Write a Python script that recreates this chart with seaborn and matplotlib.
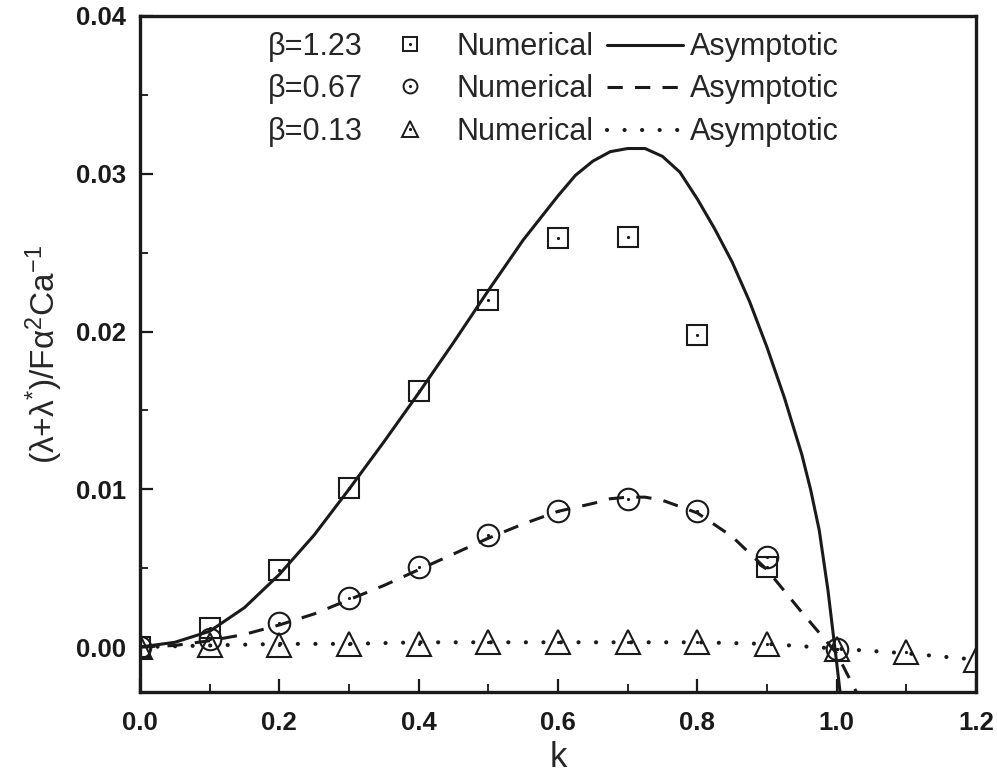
import matplotlib
matplotlib.use("Agg")
import matplotlib.pyplot as plt
import seaborn as sns
from matplotlib.ticker import MultipleLocator, FormatStrFormatter

# ---------------- data ----------------
k_num = [0.0, 0.1, 0.2, 0.3, 0.4, 0.5, 0.6, 0.7, 0.8, 0.9]
num_b123 = [0.0, 0.0012, 0.0049, 0.0101, 0.0162, 0.0220, 0.0259, 0.0260, 0.0198, 0.0051]

k_num067 = [0.0, 0.1, 0.2, 0.3, 0.4, 0.5, 0.6, 0.7, 0.8, 0.9, 1.0]
num_b067 = [0.0, 0.0005, 0.0015, 0.0031, 0.0051, 0.0071, 0.0086, 0.0094, 0.0086, 0.0057, -0.0001]

k_num013 = [0.0, 0.1, 0.2, 0.3, 0.4, 0.5, 0.6, 0.7, 0.8, 0.9, 1.0, 1.1, 1.2]
num_b013 = [0.0, 0.0001, 0.0001, 0.0002, 0.0002, 0.0003, 0.0003, 0.0003, 0.0003, 0.0002, -0.0001, -0.0003, -0.0008]

k_asy123 = [0.0, 0.05, 0.1, 0.15, 0.2, 0.25, 0.3, 0.35, 0.4, 0.45, 0.5, 0.55, 0.6, 0.625,
            0.65, 0.675, 0.7, 0.725, 0.75, 0.775, 0.8, 0.825, 0.85, 0.875, 0.9, 0.925,
            0.95, 0.9625, 0.975, 0.9875, 1.0, 1.01]
asy_b123 = [0.0, 0.0003, 0.0010, 0.0025, 0.0046, 0.0071, 0.0100, 0.0130, 0.0161, 0.0193, 0.0226,
            0.0258, 0.0286, 0.0299, 0.0308, 0.0314, 0.0316, 0.0316, 0.0311, 0.0301, 0.0284,
            0.0265, 0.0244, 0.0219, 0.0190, 0.0158, 0.0122, 0.0100, 0.0074, 0.0036, -0.0010,
            -0.0048]

k_asy067 = [0.0, 0.05, 0.1, 0.15, 0.2, 0.25, 0.3, 0.35, 0.4, 0.45, 0.5, 0.55, 0.6, 0.65,
            0.675, 0.7, 0.725, 0.75, 0.8, 0.85, 0.9, 0.95, 1.0, 1.03]
asy_b067 = [0.0, 0.0001, 0.0004, 0.0008, 0.0014, 0.0021, 0.0030, 0.0039, 0.0049, 0.0059, 0.0069,
            0.0078, 0.0086, 0.0091, 0.0094, 0.0095, 0.0095, 0.0093, 0.0085, 0.0070, 0.0049,
            0.0022, -0.0004, -0.0030]

k_asy013 = [0.0, 0.1, 0.2, 0.3, 0.4, 0.5, 0.6, 0.7, 0.8, 0.9, 1.0, 1.1, 1.2]
asy_b013 = [0.0, 0.0001, 0.0002, 0.0002, 0.0003, 0.0003, 0.0003, 0.0003, 0.0003, 0.0002, -0.0001, -0.0004, -0.0008]

betas = ["\u03b2=1.23", "\u03b2=0.67", "\u03b2=0.13"]
x_ticks = [0.0, 0.2, 0.4, 0.6, 0.8, 1.0, 1.2]
y_ticks = [0.00, 0.01, 0.02, 0.03, 0.04]

# ---------------- style ----------------
sns.set_theme(style="ticks")
plt.rcParams["font.family"] = ["Liberation Sans", "DejaVu Sans"]
plt.rcParams["mathtext.fontset"] = "custom"
plt.rcParams["mathtext.rm"] = "Liberation Sans"
plt.rcParams["mathtext.it"] = "Liberation Sans:italic"

fig = plt.figure(figsize=(9.97, 7.79), dpi=100)
ax = fig.add_axes([140 / 997, 1 - 692 / 779, 836 / 997, 676 / 779])

LW = 2.2
solid = "-"
dashed = (0, (5, 4))
dotted = (0, (0.01, 4.2))

# asymptotic curves
sns.lineplot(x=k_asy123, y=asy_b123, ax=ax, color="k", lw=LW, linestyle=solid,
             sort=False, estimator=None)
sns.lineplot(x=k_asy067, y=asy_b067, ax=ax, color="k", lw=LW, linestyle=dashed,
             sort=False, estimator=None)
sns.lineplot(x=k_asy013, y=asy_b013, ax=ax, color="k", lw=3.0, linestyle=dotted,
             dash_capstyle="round", solid_capstyle="round", sort=False, estimator=None)

# numerical markers
for kk, vv, mk, ms in [(k_num, num_b123, "s", 14), (k_num067, num_b067, "o", 15.5),
                       (k_num013, num_b013, "^", 17)]:
    sns.lineplot(x=kk, y=vv, ax=ax, linestyle="none", marker=mk, markersize=ms,
                 markerfacecolor="none", markeredgecolor="k", markeredgewidth=1.5,
                 color="k", sort=False, estimator=None)
    sns.lineplot(x=kk, y=vv, ax=ax, linestyle="none", marker=".", markersize=3,
                 markerfacecolor="k", markeredgecolor="k", color="k",
                 sort=False, estimator=None)

ax.set_xlim(0.0, 1.2)
ax.set_ylim(-0.00285, 0.04)
ax.set_xticks(x_ticks)
ax.set_yticks(y_ticks)
ax.xaxis.set_minor_locator(MultipleLocator(0.1))
ax.yaxis.set_minor_locator(MultipleLocator(0.005))
ax.xaxis.set_major_formatter(FormatStrFormatter("%.1f"))
ax.yaxis.set_major_formatter(FormatStrFormatter("%.2f"))
ax.tick_params(which="major", direction="in", length=9.5, width=1.6, labelsize=18.5,
               colors="k", top=False, right=False)
ax.tick_params(axis="x", which="major", pad=14)
ax.tick_params(axis="y", which="major", pad=10)
ax.tick_params(which="minor", direction="in", length=5.5, width=1.4, top=False, right=False)
for lab in ax.get_xticklabels() + ax.get_yticklabels():
    lab.set_fontweight("bold")
for sp in ax.spines.values():
    sp.set_visible(True)
    sp.set_linewidth(2.4)
    sp.set_color("k")

ax.set_xlabel("k", fontsize=25, labelpad=4)
ax.set_ylabel(r"$\mathregular{(\lambda{+}\lambda^{*})/F\alpha^{2}Ca^{-1}}$", fontsize=24, labelpad=8)

# ---------------- legend ----------------
rows_y = [0.942, 0.880, 0.817]
styles = [solid, dashed, dotted]
markers = [("s", 9.5), ("o", 10), ("^", 11.5)]
T = ax.transAxes
for i in range(3):
    yb = rows_y[i]
    ym = yb + 0.0165
    ax.text(0.153, yb, betas[i], transform=T, fontsize=22, va="baseline", ha="left")
    ax.plot([0.323], [ym], transform=T, marker=markers[i][0], markersize=markers[i][1],
            mfc="none", mec="k", mew=1.4, ls="none", clip_on=False)
    ax.plot([0.323], [ym], transform=T, marker=".", markersize=2.5, color="k", ls="none")
    ax.text(0.379, yb, "Numerical", transform=T, fontsize=22, va="baseline", ha="left")
    ax.plot([0.559, 0.650], [ym - 0.002, ym - 0.002], transform=T, color="k",
            lw=(LW if i < 2 else 3.0), linestyle=styles[i],
            dash_capstyle="round" if i == 2 else "butt")
    ax.text(0.658, yb, "Asymptotic", transform=T, fontsize=22, va="baseline", ha="left")

fig.savefig("out.png", dpi=100, facecolor="white")
